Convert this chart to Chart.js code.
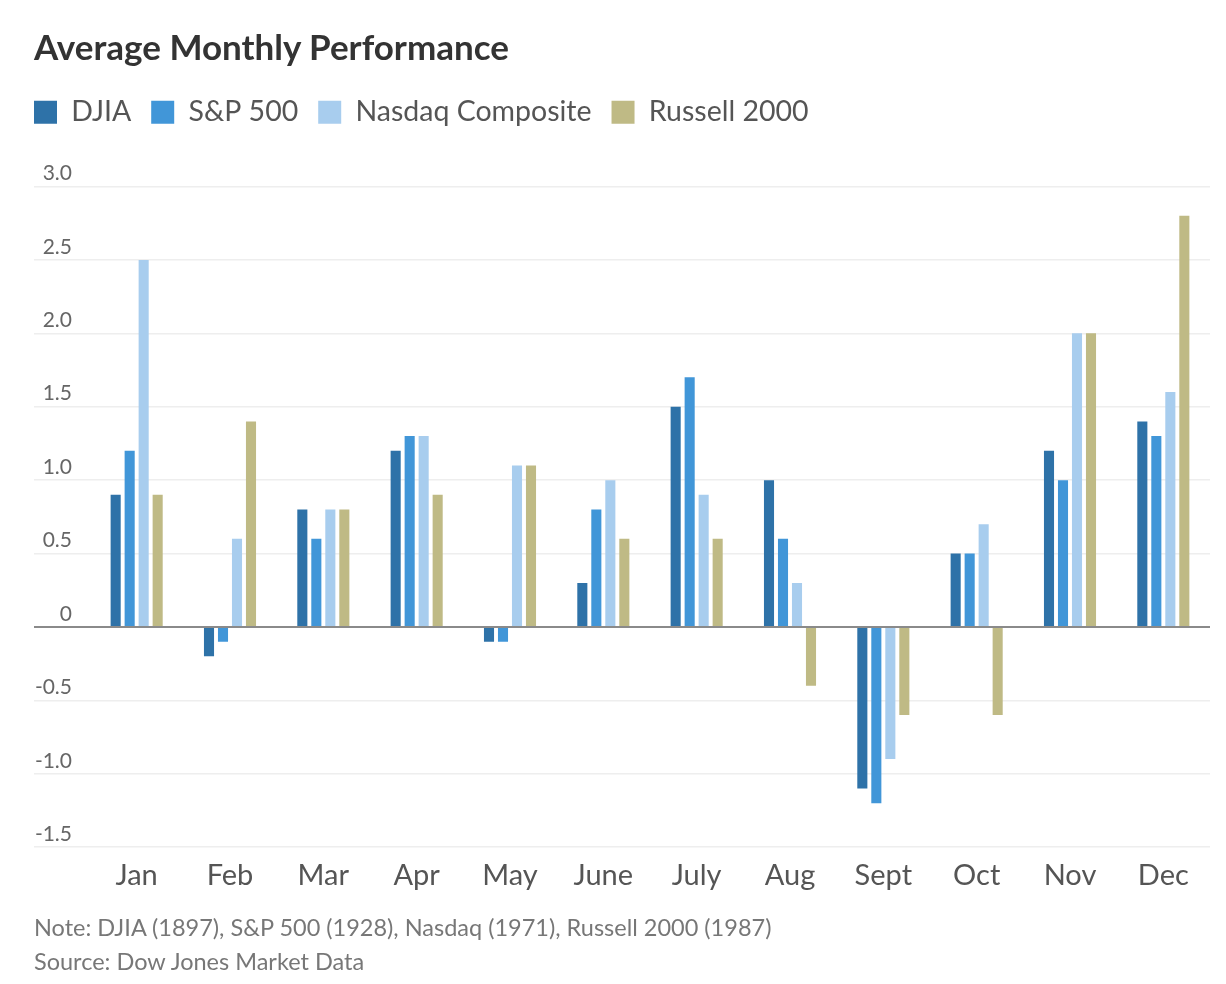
<!DOCTYPE html>
<html>
<head>
<meta charset="utf-8">
<script src="https://cdn.jsdelivr.net/npm/chart.js@4.4.1/dist/chart.umd.min.js"></script>
<style>
  html, body { margin: 0; padding: 0; background: #fff; }
  #wrap { position: relative; width: 1226px; height: 984px; font-family: Lato, sans-serif; }
  #title { position: absolute; left: 34px; top: 26px; font-size: 35px; font-weight: bold; color: #333; line-height: 40px; white-space: nowrap; }
  #notes { position: absolute; left: 34px; top: 910px; font-size: 23.5px; color: #777; line-height: 34px; white-space: nowrap; }
  canvas { position: absolute; left: 0; top: 0; }
</style>
</head>
<body>
<div id="wrap">
  <canvas id="perfChart" width="1226" height="984"></canvas>
  <div id="title">Average Monthly Performance</div>
  <div id="notes">Note: DJIA (1897), S&amp;P 500 (1928), Nasdaq (1971), Russell 2000 (1987)<br>Source: Dow Jones Market Data</div>
</div>
<script>
// monthly averages, percent
var months = ['Jan', 'Feb', 'Mar', 'Apr', 'May', 'June', 'July', 'Aug', 'Sept', 'Oct', 'Nov', 'Dec'];
var djia    = [0.9, -0.2, 0.8, 1.2, -0.1, 0.3, 1.5, 1.0, -1.1, 0.5, 1.2, 1.4];
var sp500   = [1.2, -0.1, 0.6, 1.3, -0.1, 0.8, 1.7, 0.6, -1.2, 0.5, 1.0, 1.3];
var nasdaq  = [2.5, 0.6, 0.8, 1.3, 1.1, 1.0, 0.9, 0.3, -0.9, 0.7, 2.0, 1.6];
var russell = [0.9, 1.4, 0.8, 0.9, 1.1, 0.6, 0.6, -0.4, -0.6, -0.6, 2.0, 2.8];
var yTicks  = [-1.5, -1.0, -0.5, 0, 0.5, 1.0, 1.5, 2.0, 2.5, 3.0];

// push the plot down below the legend
var legendGap = {
    id: 'legendGap',
    beforeInit: function (chart) {
        var fit = chart.legend.fit;
        chart.legend.fit = function () {
            fit.bind(chart.legend)();
            this.height += 50;
        };
    }
};

var ctx = document.getElementById('perfChart').getContext('2d');
var perfChart = new Chart(ctx, {
    type: 'bar',
    data: {
        labels: months,
        datasets: [
            { label: 'DJIA', data: djia, backgroundColor: '#2e72a8' },
            { label: 'S&P 500', data: sp500, backgroundColor: '#4196d8' },
            { label: 'Nasdaq Composite', data: nasdaq, backgroundColor: '#a8cdee' },
            { label: 'Russell 2000', data: russell, backgroundColor: '#bfba85' }
        ]
    },
    options: {
        responsive: false,
        animation: false,
        layout: { padding: { left: 14, right: 16, top: 78, bottom: 80 } },
        categoryPercentage: 0.6,
        barPercentage: 0.72,
        plugins: {
            legend: {
                position: 'top',
                align: 'start',
                labels: {
                    boxWidth: 23,
                    boxHeight: 23,
                    padding: 20,
                    color: '#555',
                    font: { family: 'Lato', size: 28.5 }
                }
            },
            tooltip: { enabled: false }
        },
        scales: {
            x: {
                grid: { display: false, drawTicks: false },
                border: { display: false },
                ticks: {
                    padding: 11,
                    color: '#555',
                    font: { family: 'Lato', size: 29 }
                }
            },
            y: {
                min: -1.5,
                max: 3.0,
                afterBuildTicks: function (scale) {
                    scale.ticks = yTicks.map(function (v) { return { value: v }; });
                },
                afterFit: function (scale) { scale.width = 76; },
                grid: {
                    tickLength: 56,
                    color: function (c) { return c.tick && c.tick.value === 0 ? '#8a8a8a' : '#eeeeee'; },
                    lineWidth: function (c) { return c.tick && c.tick.value === 0 ? 2 : 1.5; }
                },
                border: { display: false },
                ticks: {
                    padding: -38,
                    labelOffset: -13,
                    color: '#666',
                    font: { family: 'Lato', size: 21 },
                    callback: function (v) { return v === 0 ? '0' : v.toFixed(1); }
                }
            }
        }
    },
    plugins: [legendGap]
});
</script>
</body>
</html>
